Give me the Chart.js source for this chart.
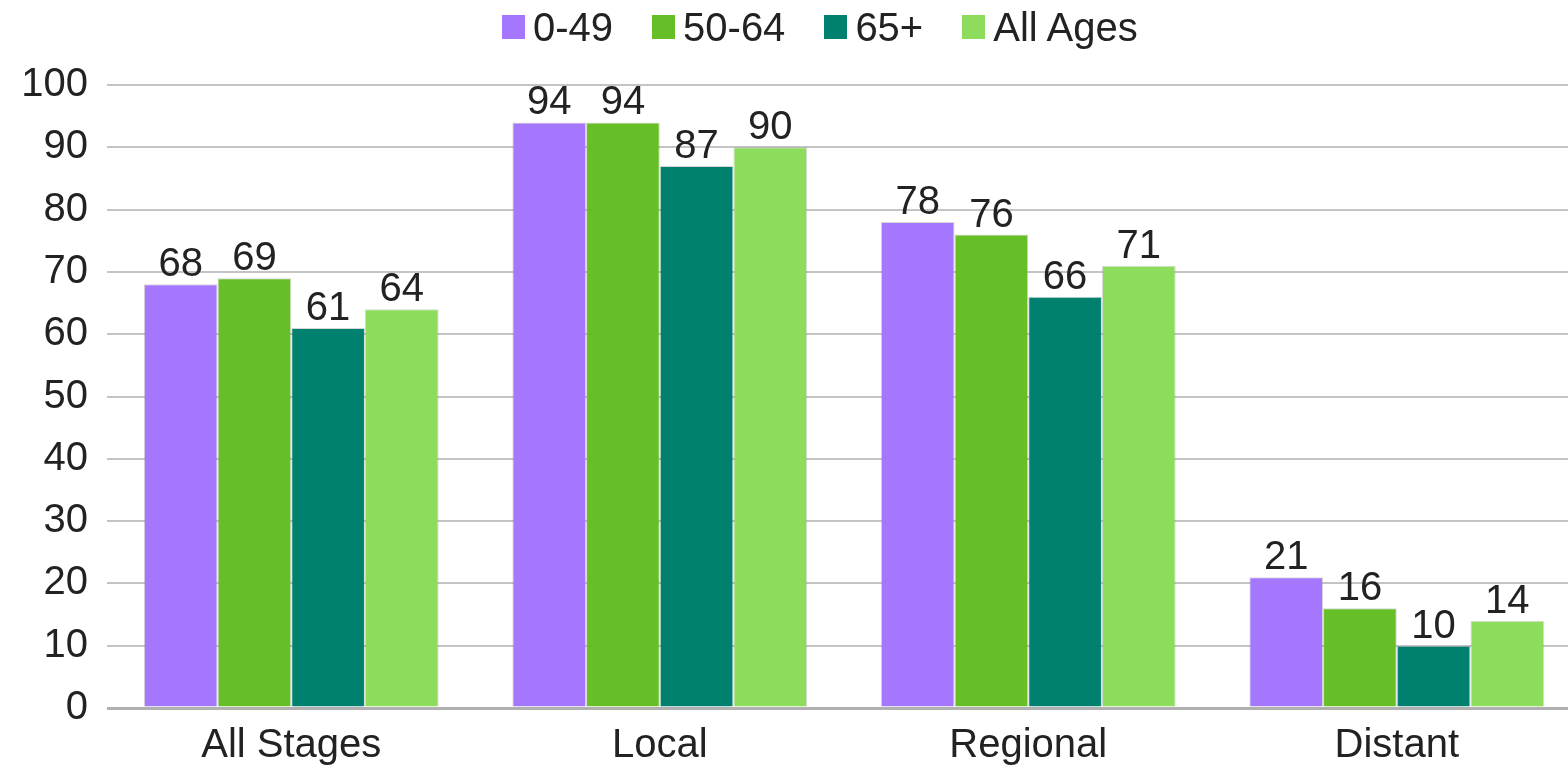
<!DOCTYPE html>
<html>
<head>
<meta charset="utf-8">
<script src="https://cdn.jsdelivr.net/npm/chart.js@4/dist/chart.umd.min.js"></script>
<style>
  html, body { margin: 0; padding: 0; background: #fff; overflow: hidden; }
  #wrap { position: relative; width: 1568px; height: 772px; overflow: hidden; }
  #legend {
    position: absolute; left: 502px; top: 5px;
    display: flex; align-items: center;
    font-family: 'Liberation Sans', Arial, sans-serif; font-size: 40px; color: #222;
  }
  .item { display: flex; align-items: center; margin-right: 39px; }
  .box { width: 23px; height: 24px; margin-right: 8px; margin-top: -2px; }
</style>
</head>
<body>
<div id="wrap">
  <!-- canvas a bit wider than the page: the source image is cropped on the right -->
  <canvas id="chart" width="1581" height="772"></canvas>
  <div id="legend"></div>
</div>
<script>
// Survival by stage and age group

const categories = ['All Stages', 'Local', 'Regional', 'Distant'];
const seriesNames = ['0-49', '50-64', '65+', 'All Ages'];
const age0to49 = [68, 94, 78, 21];
const age50to64 = [69, 94, 76, 16];
const age65plus = [61, 87, 66, 10];
const allAges = [64, 90, 71, 14];
const yTicks = [0, 10, 20, 30, 40, 50, 60, 70, 80, 90, 100];

const colors = ['#a577ff', '#67bf27', '#00806f', '#8edc5b'];
const seriesData = [age0to49, age50to64, age65plus, allAges];

const FONT = "'Liberation Sans', Arial, sans-serif";

// Value labels above bars
const valueLabels = {
    id: 'valueLabels',
    afterDatasetsDraw(chart) {
        const ctx = chart.ctx;
        ctx.save();
        ctx.font = '40px ' + FONT;
        ctx.fillStyle = '#222';
        ctx.textAlign = 'center';
        ctx.textBaseline = 'alphabetic';
        chart.data.datasets.forEach((ds, i) => {
            const meta = chart.getDatasetMeta(i);
            meta.data.forEach((bar, j) => {
                ctx.fillText(String(ds.data[j]), bar.x, bar.y - 8);
            });
        });
        ctx.restore();
    }
};

// Build legend
const legendEl = document.getElementById('legend');
seriesNames.forEach((name, i) => {
    const item = document.createElement('div');
    item.className = 'item';
    const box = document.createElement('div');
    box.className = 'box';
    box.style.background = colors[i];
    const txt = document.createElement('span');
    txt.textContent = name;
    item.appendChild(box);
    item.appendChild(txt);
    legendEl.appendChild(item);
});

const ctx = document.getElementById('chart').getContext('2d');
new Chart(ctx, {
    type: 'bar',
    data: {
        labels: categories,
        datasets: seriesNames.map((name, i) => ({
            label: name,
            data: seriesData[i],
            backgroundColor: colors[i],
            borderColor: 'rgba(140,140,140,0.35)',
            borderWidth: 1,
            categoryPercentage: 0.8,
            barPercentage: 1.0
        }))
    },
    options: {
        responsive: false,
        animation: false,
        layout: { padding: { top: 85, right: 0, bottom: 0, left: 0 } },
        plugins: {
            legend: { display: false },
            tooltip: { enabled: false }
        },
        scales: {
            x: {
                grid: { display: false, drawTicks: false },
                border: { display: false },
                ticks: {
                    color: '#222',
                    font: { family: FONT, size: 40 },
                    padding: 14
                },
                afterFit: (scale) => { scale.height = 64; }
            },
            y: {
                min: 0,
                max: 100,
                afterBuildTicks: (scale) => {
                    scale.ticks = yTicks.map(v => ({ value: v }));
                },
                grid: {
                    color: (c) => c.tick && c.tick.value === 0 ? '#b0b0b0' : '#c4c4c4',
                    lineWidth: (c) => c.tick && c.tick.value === 0 ? 3 : 2,
                    drawTicks: false
                },
                border: { display: false },
                ticks: {
                    color: '#222',
                    font: { family: FONT, size: 40 },
                    padding: 19
                },
                afterFit: (scale) => { scale.width = 107; }
            }
        }
    },
    plugins: [valueLabels]
});
</script>
</body>
</html>
